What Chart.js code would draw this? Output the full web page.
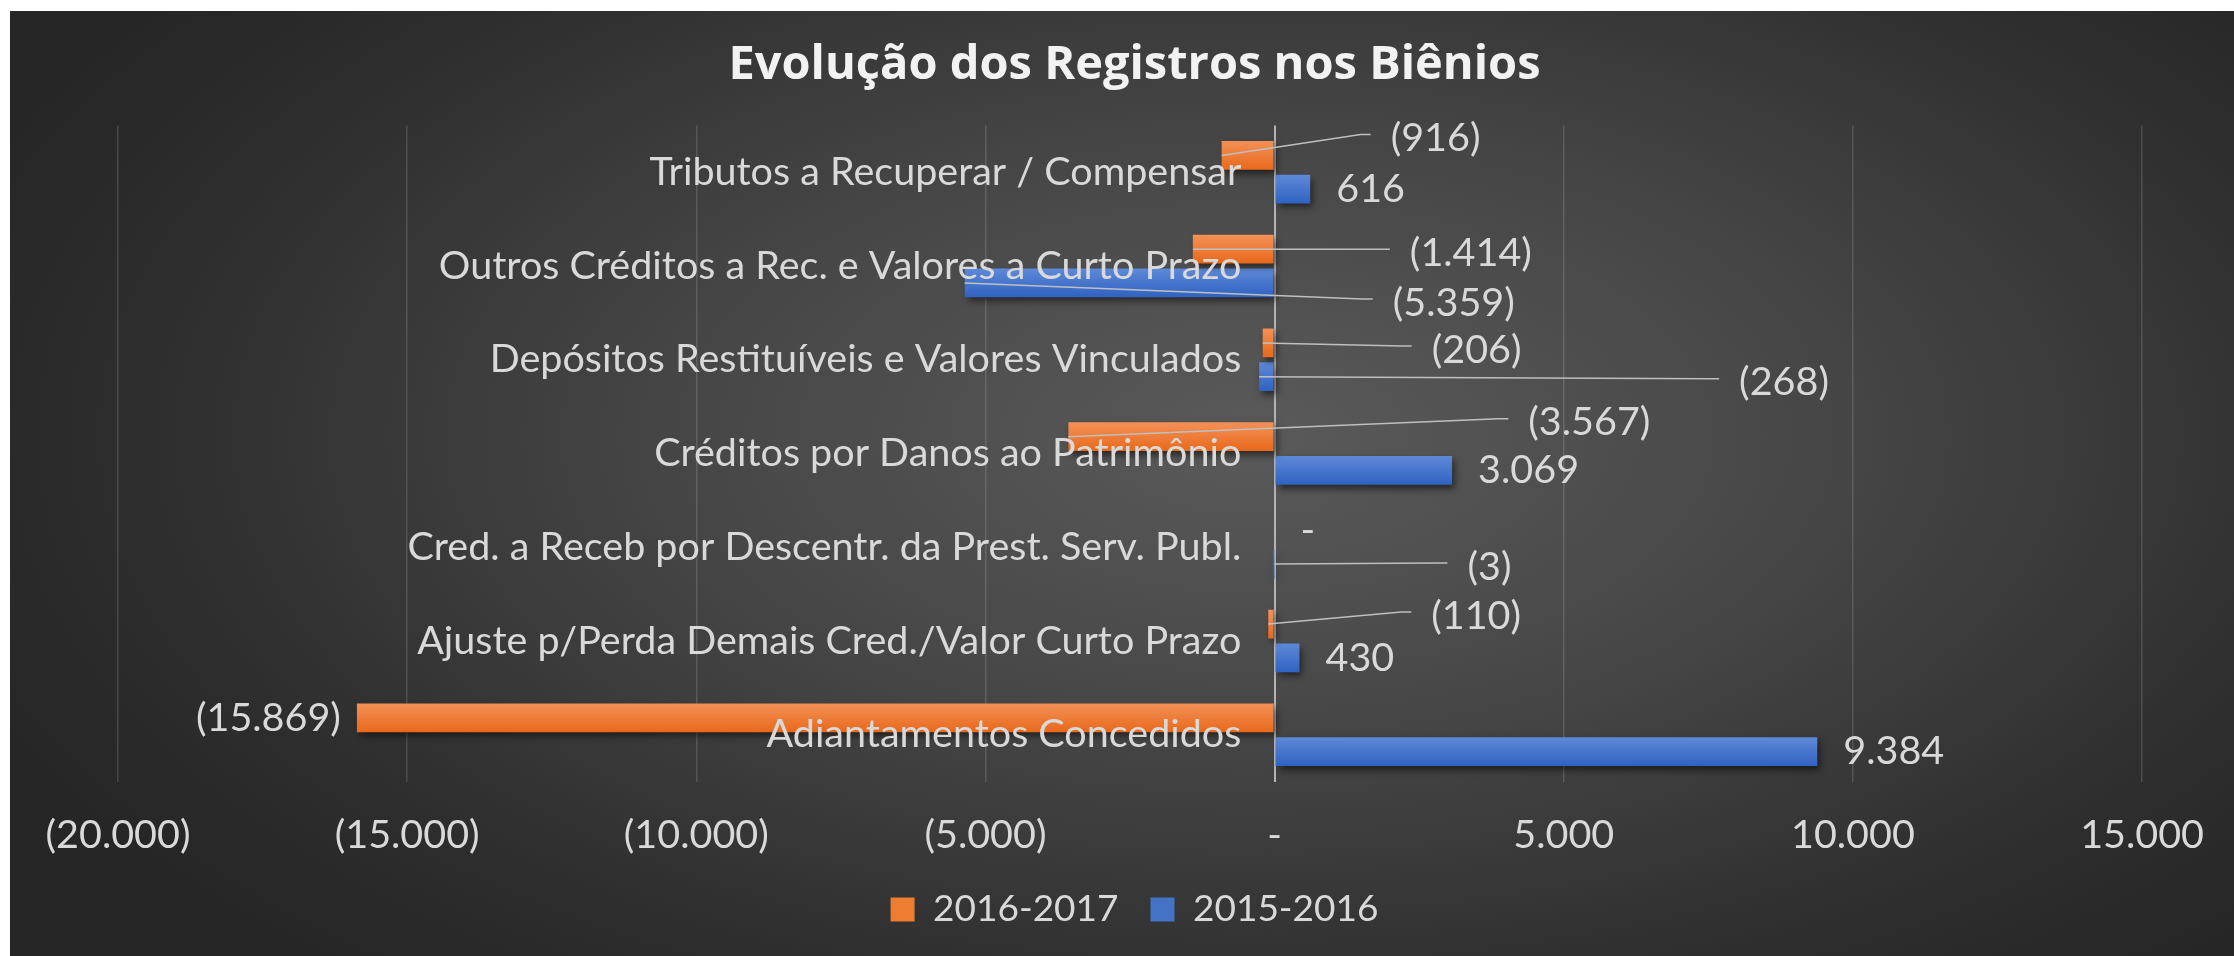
<!DOCTYPE html>
<html lang="pt-BR">
<head>
<meta charset="utf-8">
<title>Evolução dos Registros nos Biênios</title>
<script src="https://cdn.jsdelivr.net/npm/chart.js@4.4.1/dist/chart.umd.min.js"></script>
<style>
  html, body { margin: 0; padding: 0; background: #fff; }
  #wrap {
    position: absolute;
    left: 10px;
    top: 11px;
    width: 2224px;
    height: 945px;
    background: radial-gradient(ellipse 62% 75% at 56% 45%, #5a5a5a 0%, #474747 40%, #2e2e2e 80%, #262626 100%);
  }
  canvas { display: block; }
</style>
</head>
<body>
<div id="wrap"><canvas id="bienioChart"></canvas></div>
<script>
// categories, top to bottom
const categories = [
  'Tributos a Recuperar / Compensar',
  'Outros Créditos a Rec. e Valores a Curto Prazo',
  'Depósitos Restituíveis e Valores Vinculados',
  'Créditos por Danos ao Patrimônio',
  'Cred. a Receb por Descentr. da Prest. Serv. Publ.',
  'Ajuste p/Perda Demais Cred./Valor Curto Prazo',
  'Adiantamentos Concedidos'
]
const valores2016_2017 = [-916, -1414, -206, -3567, 0, -110, -15869]
const valores2015_2016 = [616, -5359, -268, 3069, -3, 430, 9384]
const xTickValues = [-20000, -15000, -10000, -5000, 0, 5000, 10000, 15000]

const textColor = '#d9d9d9'
const fontFamily = 'Lato, "Noto Sans", sans-serif'

// 1.234 / (1.234) / -
function fmt(v) {
  if (v === 0) return '-'
  const s = Math.abs(v).toString().replace(/\B(?=(\d{3})+(?!\d))/g, '.')
  return v < 0 ? '(' + s + ')' : s
}

function barGradient(top, bottom) {
  return (context) => {
    const el = context.element
    if (!el || el.y == null || isNaN(el.y) || !el.height) return bottom
    const g = context.chart.ctx.createLinearGradient(0, el.y - el.height / 2, 0, el.y + el.height / 2)
    g.addColorStop(0, top)
    g.addColorStop(1, bottom)
    return g
  }
}

// moved labels with leader lines: [dx, dy] from the bar end, null = default place
const labelMoves = [
  [[169, -17], [217, 4], [169, 7], [460, -14], null, [163, -8], null],
  [null, [428, 20], [480, 6], null, [193, 3], null, null]
]

const barShadow = {
  id: 'barShadow',
  beforeDatasetsDraw(chart) {
    const ctx = chart.ctx
    ctx.save()
    ctx.shadowColor = 'rgba(0, 0, 0, 0.55)'
    ctx.shadowBlur = 7
    ctx.shadowOffsetX = 3
    ctx.shadowOffsetY = 4
  },
  afterDatasetsDraw(chart) {
    chart.ctx.restore()
  }
}

const valueLabels = {
  id: 'valueLabels',
  afterDatasetsDraw(chart) {
    const ctx = chart.ctx
    ctx.save()
    ctx.font = '39.5px ' + fontFamily
    ctx.fillStyle = textColor
    ctx.strokeStyle = '#bfbfbf'
    ctx.lineWidth = 1.5
    ctx.textBaseline = 'middle'
    chart.data.datasets.forEach((ds, di) => {
      chart.getDatasetMeta(di).data.forEach((el, i) => {
        const v = ds.data[i]
        const text = fmt(v)
        const move = labelMoves[di][i]
        if (move) {
          const lx = el.x + move[0]
          const ly = el.y + move[1]
          ctx.beginPath()
          ctx.moveTo(el.x, el.y)
          ctx.lineTo(lx - 30, ly - 4)
          ctx.lineTo(lx - 20, ly - 4)
          ctx.stroke()
          ctx.textAlign = 'left'
          ctx.fillText(text, lx, ly)
        } else if (v < 0) {
          ctx.textAlign = 'right'
          ctx.fillText(text, el.x - 16, el.y)
        } else {
          ctx.textAlign = 'left'
          ctx.fillText(text, el.x + 26, el.y)
        }
      })
    })
    ctx.restore()
  }
}

const bienioChart = document.querySelector('#bienioChart')
const chart = new Chart(bienioChart, {
  type: 'bar',
  data: {
    labels: categories,
    datasets: [
      {
        label: '2016-2017',
        data: valores2016_2017,
        backgroundColor: barGradient('#f39157', '#e8691b'),
        borderWidth: 0,
        categoryPercentage: 0.72,
        barPercentage: 0.85
      },
      {
        label: '2015-2016',
        data: valores2015_2016,
        backgroundColor: barGradient('#5f89d8', '#2f62c1'),
        borderWidth: 0,
        categoryPercentage: 0.72,
        barPercentage: 0.85
      }
    ]
  },
  options: {
    indexAxis: 'y',
    responsive: true,
    maintainAspectRatio: false,
    animation: false,
    layout: {
      padding: { left: 108, right: 83, top: 0, bottom: 18 }
    },
    plugins: {
      title: {
        display: true,
        text: 'Evolução dos Registros nos Biênios',
        color: '#f2f2f2',
        font: { family: '"Open Sans", sans-serif', size: 47, weight: 'bold' },
        padding: { top: 26, bottom: 32 }
      },
      legend: {
        position: 'bottom',
        labels: {
          color: textColor,
          boxWidth: 24,
          boxHeight: 24,
          padding: 32,
          font: { family: fontFamily, size: 37 },
          generateLabels(chart) {
            const colors = ['#ed7d31', '#4472c4']
            return chart.data.datasets.map((ds, i) => ({
              text: ds.label,
              fillStyle: colors[i],
              strokeStyle: colors[i],
              lineWidth: 0,
              fontColor: textColor,
              datasetIndex: i
            }))
          }
        }
      },
      tooltip: { enabled: false }
    },
    scales: {
      x: {
        type: 'linear',
        min: -20000,
        max: 15000,
        afterBuildTicks(axis) {
          axis.ticks = xTickValues.map(v => ({ value: v }))
        },
        // Chart.js counts the tick padding twice; keep the legend close like the original
        afterFit(axis) {
          axis.height -= axis.options.ticks.padding
        },
        ticks: {
          color: textColor,
          padding: 30,
          font: { family: fontFamily, size: 39.5 },
          callback: (v) => fmt(v)
        },
        grid: {
          color: (c) => c.tick && c.tick.value === 0 ? '#b4b4b4' : 'rgba(255, 255, 255, 0.14)',
          lineWidth: (c) => c.tick && c.tick.value === 0 ? 2 : 1.5,
          drawTicks: false
        },
        border: { display: false }
      },
      y: {
        // category names sit just left of the zero line, over the bars
        position: { x: -575 },
        ticks: {
          color: textColor,
          padding: 0,
          z: 1,
          font: { family: fontFamily, size: 39.5 }
        },
        grid: { display: false, drawTicks: false },
        border: { display: false }
      }
    }
  },
  plugins: [barShadow, valueLabels]
})
// second pass so the bar gradients know where each bar sits
chart.update('none')
</script>
</body>
</html>
